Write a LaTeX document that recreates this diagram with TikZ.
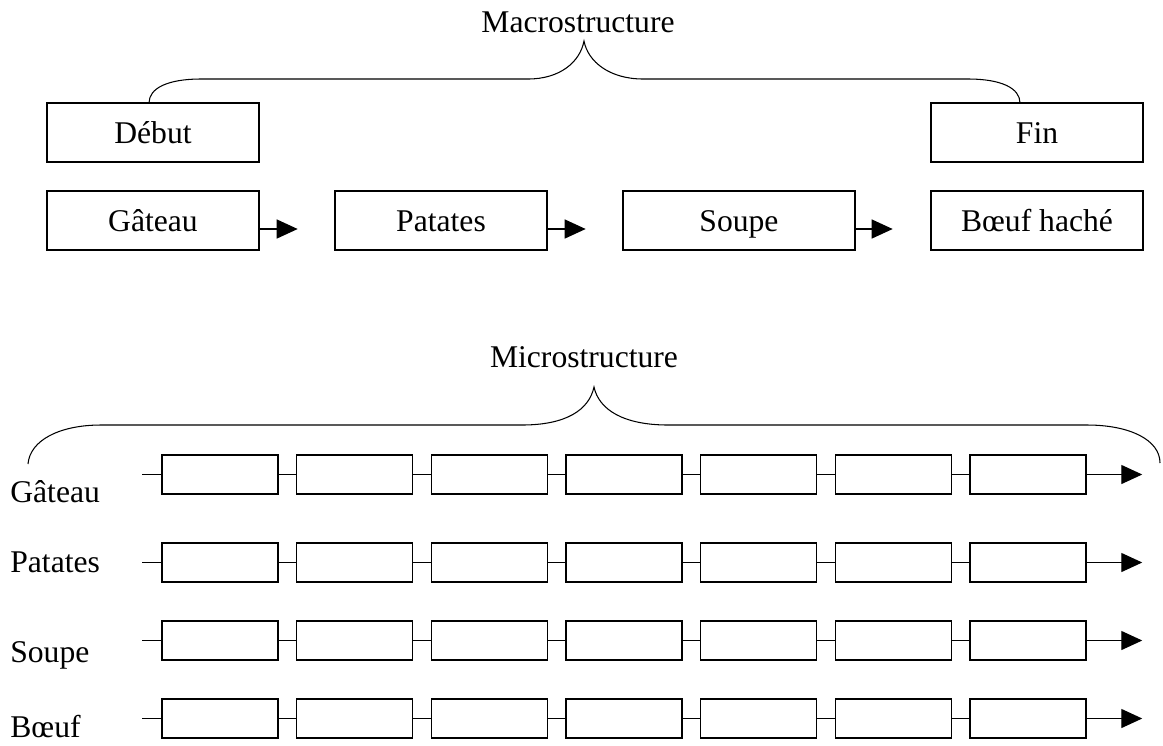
\documentclass[tikz,border=0pt]{standalone}
\usepackage{fontspec}
\setmainfont{Liberation Serif}
\usepackage{tikz}
\usetikzlibrary{positioning,arrows.meta}

\tikzset{
  txt/.style={font=\fontsize{18}{22}\selectfont, inner sep=0pt},
  macrobox/.style={txt, draw, line width=0.8pt, text height=13pt, text depth=1pt,
    minimum width=4.24cm, minimum height=1.18cm},
  cell/.style={draw, line width=0.8pt, minimum width=2.32cm, minimum height=0.78cm, inner sep=0pt},
  arr/.style={line width=0.8pt, -{Triangle[length=0.42cm,width=0.38cm]}},
  brace/.style={line width=0.6pt}
}

\begin{document}
\begin{tikzpicture}[x=0.02cm, y=-0.02cm]
\useasboundingbox (0,0) rectangle (1163,745);

  % Define nodes
\node[txt]  (macro) at (578,22) {Macrostructure};
\node[macrobox] (debut) at (153,132.5) {Début};
\node[macrobox] (fin)   at (1037,132.5) {Fin};
\node[macrobox] (gateau)  at (153,220.5) {Gâteau};
\node[macrobox] (patates) at (441,220.5) {Patates};
\node[macrobox, minimum width=4.64cm] (soupe) at (739,220.5) {Soupe};
\node[macrobox] (boeuf)   at (1037,220.5) {Bœuf haché};
\node[txt]  (micro) at (584,357) {Microstructure};

  % Connect the nodes
\draw[arr] ([yshift=-0.17cm]gateau.east) -- ++(0.76cm,0);
\draw[arr] ([yshift=-0.17cm]patates.east) -- ++(0.76cm,0);
\draw[arr] ([yshift=-0.17cm]soupe.east) -- ++(0.74cm,0);

  % Braces
\draw[brace] (149,103) .. controls (149,88) and (168,79) .. (201,79) -- (528,79)
  .. controls (560,79) and (580,62) .. (584,41)
  .. controls (588,62) and (610,79) .. (643,79) -- (968,79)
  .. controls (1001,79) and (1020,88) .. (1020,103);
\draw[brace] (28,464) .. controls (30,440) and (60,425) .. (101,425) -- (522,425)
  .. controls (566,425) and (589,410) .. (594,387)
  .. controls (599,410) and (624,425) .. (668,425) -- (1087,425)
  .. controls (1130,425) and (1160,440) .. (1160,463);

  % Rows of the microstructure
\foreach \r/\lab/\yy/\ly in {1/Gâteau/474.5/492, 2/Patates/562.5/562, 3/Soupe/640.5/655, 4/Bœuf/718.5/727}{
  \node[txt, anchor=west] (l\r) at (10,\ly) {\lab};
  \node[cell] (c\r-1) at (220,\yy) {};
  \draw[line width=0.8pt] (c\r-1.west) -- ++(-0.38cm,0);
  \foreach \c [remember=\c as \p (initially 1)] in {2,...,7}{
    \node[cell, right=0.346cm of c\r-\p] (c\r-\c) {};
    \draw[line width=0.8pt] (c\r-\p) -- (c\r-\c);
  }
  \draw[arr] (c\r-7.east) -- ++(1.11cm,0);
}

\end{tikzpicture}
\end{document}
